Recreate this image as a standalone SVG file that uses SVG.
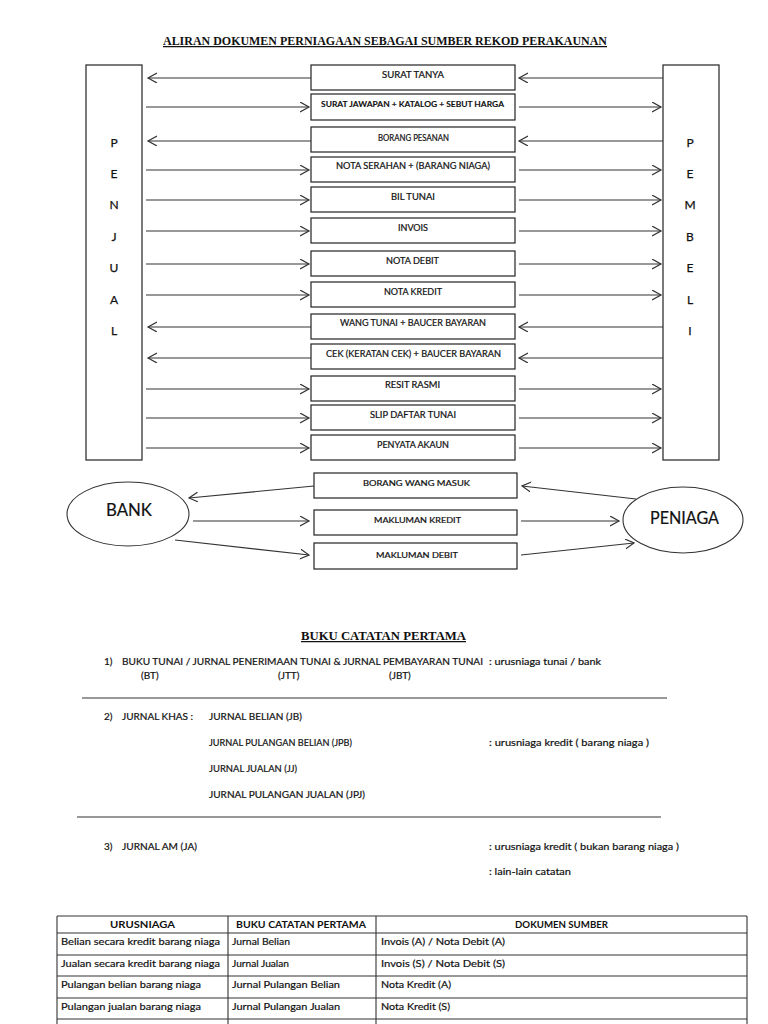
<svg xmlns="http://www.w3.org/2000/svg" width="768" height="1024" viewBox="0 0 768 1024">
<style>
.bg{fill:#fff}
.box{fill:#fff;stroke:#222;stroke-width:1.2}
.ell{fill:#fff;stroke:#333;stroke-width:1.1}
.bt{font-family:Lato,"Liberation Sans",sans-serif;font-size:8.5px;fill:#111;stroke:#111;stroke-width:0.2;text-anchor:start}
.bb{font-weight:bold;font-size:7.8px;stroke-width:0.1}
.title{font-family:"Liberation Serif",serif;font-weight:bold;font-size:12.5px;fill:#111;text-decoration:underline}
.let{font-family:Lato,"Liberation Sans",sans-serif;font-size:12px;fill:#111;stroke:#111;stroke-width:0.25;text-anchor:middle}
.big{font-family:Lato,"Liberation Sans",sans-serif;font-size:17px;fill:#111;stroke:#111;stroke-width:0.2}
.t{font-family:Lato,"Liberation Sans",sans-serif;font-size:10px;fill:#111;stroke:#111;stroke-width:0.2}
.th{font-family:Lato,"Liberation Sans",sans-serif;font-size:10px;fill:#111;font-weight:bold}
.con line{stroke:#333;stroke-width:1.2;marker-end:url(#arr)}
.rule{stroke:#333;stroke-width:1.2}
.tbl{stroke:#333;stroke-width:1.1;fill:none}
</style>
<defs>
<marker id="arr" markerUnits="userSpaceOnUse" markerWidth="12" markerHeight="12" refX="9" refY="5" orient="auto">
<path d="M0,0 L9,5 L0,10" fill="none" stroke="#333" stroke-width="1.2"/>
</marker>
</defs>
<rect class="bg" x="0" y="0" width="768" height="1024"/>

<text class="title" x="163" y="45" textLength="444" lengthAdjust="spacingAndGlyphs">ALIRAN DOKUMEN PERNIAGAAN SEBAGAI SUMBER REKOD PERAKAUNAN</text>

<g id="penjual">
<rect class="box" x="86" y="65" width="56" height="395"/>
<text class="let" x="114" y="147">P</text>
<text class="let" x="114" y="178">E</text>
<text class="let" x="114" y="209">N</text>
<text class="let" x="114" y="241">J</text>
<text class="let" x="114" y="272">U</text>
<text class="let" x="114" y="304">A</text>
<text class="let" x="114" y="335">L</text>
</g>
<g id="pembeli">
<rect class="box" x="663" y="65" width="56" height="395"/>
<text class="let" x="690" y="147">P</text>
<text class="let" x="690" y="178">E</text>
<text class="let" x="690" y="209">M</text>
<text class="let" x="690" y="241">B</text>
<text class="let" x="690" y="272">E</text>
<text class="let" x="690" y="304">L</text>
<text class="let" x="690" y="335">I</text>
</g>

<g id="surat-tanya"><rect class="box" x="311" y="65" width="204" height="25"/><text class="bt" x="382" y="78" textLength="62" lengthAdjust="spacingAndGlyphs">SURAT TANYA</text></g>
<g id="surat-jawapan"><rect class="box" x="311" y="94" width="204" height="26"/><text class="bt bb" x="321" y="107" textLength="183" lengthAdjust="spacingAndGlyphs">SURAT JAWAPAN + KATALOG + SEBUT HARGA</text></g>
<g id="borang-pesanan"><rect class="box" x="311" y="127" width="204" height="25"/><text class="bt" x="378" y="141" textLength="71" lengthAdjust="spacingAndGlyphs">BORANG PESANAN</text></g>
<g id="nota-serahan"><rect class="box" x="311" y="157" width="204" height="25"/><text class="bt" x="336" y="169" textLength="154" lengthAdjust="spacingAndGlyphs">NOTA SERAHAN + (BARANG NIAGA)</text></g>
<g id="bil-tunai"><rect class="box" x="311" y="187" width="204" height="25"/><text class="bt" x="391" y="200" textLength="44" lengthAdjust="spacingAndGlyphs">BIL TUNAI</text></g>
<g id="invois"><rect class="box" x="311" y="218" width="204" height="25"/><text class="bt" x="398" y="231" textLength="30" lengthAdjust="spacingAndGlyphs">INVOIS</text></g>
<g id="nota-debit"><rect class="box" x="311" y="251" width="204" height="25"/><text class="bt" x="386" y="264" textLength="53" lengthAdjust="spacingAndGlyphs">NOTA DEBIT</text></g>
<g id="nota-kredit"><rect class="box" x="311" y="282" width="204" height="25"/><text class="bt" x="384" y="295" textLength="58" lengthAdjust="spacingAndGlyphs">NOTA KREDIT</text></g>
<g id="wang-tunai"><rect class="box" x="311" y="314" width="204" height="25"/><text class="bt" x="340" y="326" textLength="146" lengthAdjust="spacingAndGlyphs">WANG TUNAI + BAUCER BAYARAN</text></g>
<g id="cek"><rect class="box" x="311" y="344" width="204" height="25"/><text class="bt" x="326" y="357" textLength="175" lengthAdjust="spacingAndGlyphs">CEK (KERATAN CEK) + BAUCER BAYARAN</text></g>
<g id="resit-rasmi"><rect class="box" x="311" y="376" width="204" height="25"/><text class="bt" x="385" y="388" textLength="55" lengthAdjust="spacingAndGlyphs">RESIT RASMI</text></g>
<g id="slip-daftar"><rect class="box" x="311" y="405" width="204" height="25"/><text class="bt" x="370" y="418" textLength="86" lengthAdjust="spacingAndGlyphs">SLIP DAFTAR TUNAI</text></g>
<g id="penyata-akaun"><rect class="box" x="311" y="435" width="204" height="25"/><text class="bt" x="377" y="448" textLength="72" lengthAdjust="spacingAndGlyphs">PENYATA AKAUN</text></g>

<g id="borang-wang-masuk"><rect class="box" x="314" y="473" width="203" height="25"/><text class="bt" x="363" y="486" textLength="107" lengthAdjust="spacingAndGlyphs" style="font-size:7.5px">BORANG WANG MASUK</text></g>
<g id="makluman-kredit"><rect class="box" x="314" y="510" width="203" height="25"/><text class="bt" x="374" y="523" textLength="87" lengthAdjust="spacingAndGlyphs" style="font-size:7.5px">MAKLUMAN KREDIT</text></g>
<g id="makluman-debit"><rect class="box" x="314" y="543" width="203" height="26"/><text class="bt" x="376" y="558" textLength="82" lengthAdjust="spacingAndGlyphs" style="font-size:7.5px">MAKLUMAN DEBIT</text></g>

<g id="bank"><ellipse class="ell" cx="128" cy="514" rx="61" ry="32"/><text class="big" x="106" y="516" textLength="46" lengthAdjust="spacingAndGlyphs">BANK</text></g>
<g id="peniaga"><ellipse class="ell" cx="683" cy="520" rx="60" ry="33"/><text class="big" x="650" y="524" textLength="69" lengthAdjust="spacingAndGlyphs">PENIAGA</text></g>

<g id="connectors" class="con">
<line x1="311" y1="78" x2="148" y2="78"/><line x1="663" y1="78" x2="519" y2="78"/>
<line x1="146" y1="107" x2="309" y2="107"/><line x1="519" y1="107" x2="661" y2="107"/>
<line x1="311" y1="141" x2="148" y2="141"/><line x1="663" y1="141" x2="519" y2="141"/>
<line x1="146" y1="170" x2="309" y2="170"/><line x1="519" y1="170" x2="661" y2="170"/>
<line x1="146" y1="200" x2="309" y2="200"/><line x1="519" y1="200" x2="661" y2="200"/>
<line x1="146" y1="231" x2="309" y2="231"/><line x1="519" y1="231" x2="661" y2="231"/>
<line x1="146" y1="264" x2="309" y2="264"/><line x1="519" y1="264" x2="661" y2="264"/>
<line x1="146" y1="295" x2="309" y2="295"/><line x1="519" y1="295" x2="661" y2="295"/>
<line x1="311" y1="327" x2="148" y2="327"/><line x1="663" y1="327" x2="519" y2="327"/>
<line x1="311" y1="358" x2="148" y2="358"/><line x1="663" y1="358" x2="519" y2="358"/>
<line x1="146" y1="389" x2="309" y2="389"/><line x1="519" y1="389" x2="661" y2="389"/>
<line x1="146" y1="418" x2="309" y2="418"/><line x1="519" y1="418" x2="661" y2="418"/>
<line x1="146" y1="448" x2="309" y2="448"/><line x1="519" y1="448" x2="661" y2="448"/>
<line x1="314" y1="486" x2="189" y2="498"/>
<line x1="636" y1="499" x2="522" y2="486"/>
<line x1="193" y1="521" x2="309" y2="521"/>
<line x1="521" y1="521" x2="619" y2="521"/>
<line x1="175" y1="540" x2="309" y2="555"/>
<line x1="521" y1="555" x2="634" y2="543"/>
</g>

<text class="title" x="301" y="640" textLength="165" lengthAdjust="spacingAndGlyphs">BUKU CATATAN PERTAMA</text>

<text class="t" x="104" y="664.5">1)</text>
<text class="t" x="122" y="664.5" textLength="361" lengthAdjust="spacingAndGlyphs">BUKU TUNAI / JURNAL PENERIMAAN TUNAI &amp; JURNAL PEMBAYARAN TUNAI</text>
<text class="t" x="489" y="664.5" textLength="112" lengthAdjust="spacingAndGlyphs">: urusniaga tunai / bank</text>
<text class="t" x="141" y="678.5">(BT)</text>
<text class="t" x="278" y="678.5">(JTT)</text>
<text class="t" x="389" y="678.5">(JBT)</text>
<line class="rule" x1="82" y1="698" x2="667" y2="698"/>

<text class="t" x="104" y="719.5">2)</text>
<text class="t" x="122" y="719.5" textLength="71" lengthAdjust="spacingAndGlyphs">JURNAL KHAS :</text>
<text class="t" x="209" y="719.5" textLength="93" lengthAdjust="spacingAndGlyphs">JURNAL BELIAN (JB)</text>
<text class="t" x="209" y="745.5" textLength="143" lengthAdjust="spacingAndGlyphs">JURNAL PULANGAN BELIAN (JPB)</text>
<text class="t" x="489" y="745.5" textLength="160" lengthAdjust="spacingAndGlyphs">: urusniaga kredit  ( barang niaga )</text>
<text class="t" x="209" y="771.5" textLength="88" lengthAdjust="spacingAndGlyphs">JURNAL JUALAN (JJ)</text>
<text class="t" x="209" y="797.5" textLength="156" lengthAdjust="spacingAndGlyphs">JURNAL PULANGAN JUALAN (JPJ)</text>
<line class="rule" x1="77" y1="817" x2="661" y2="817"/>

<text class="t" x="104" y="849.5">3)</text>
<text class="t" x="122" y="849.5" textLength="75" lengthAdjust="spacingAndGlyphs">JURNAL AM (JA)</text>
<text class="t" x="489" y="849.5" textLength="190" lengthAdjust="spacingAndGlyphs">: urusniaga kredit ( bukan barang niaga )</text>
<text class="t" x="489" y="874.5" textLength="82" lengthAdjust="spacingAndGlyphs">: lain-lain catatan</text>

<g id="table">
<path class="tbl" d="M57,916 H747 M57,933 H747 M57,955 H747 M57,976 H747 M57,998 H747 M57,1019 H747 M57,916 V1024 M228,916 V1024 M376,916 V1024 M747,916 V1024"/>
<text class="th" x="110" y="927.5" textLength="65" lengthAdjust="spacingAndGlyphs">URUSNIAGA</text>
<text class="th" x="236" y="927.5" textLength="130" lengthAdjust="spacingAndGlyphs">BUKU CATATAN PERTAMA</text>
<text class="th" x="515" y="927.5" textLength="93" lengthAdjust="spacingAndGlyphs">DOKUMEN SUMBER</text>
<text class="t" x="61" y="945" textLength="159" lengthAdjust="spacingAndGlyphs">Belian secara kredit barang niaga</text>
<text class="t" x="232" y="945" textLength="58" lengthAdjust="spacingAndGlyphs">Jurnal Belian</text>
<text class="t" x="381" y="945" textLength="124" lengthAdjust="spacingAndGlyphs">Invois (A)  / Nota Debit (A)</text>
<text class="t" x="61" y="966.5" textLength="159" lengthAdjust="spacingAndGlyphs">Jualan secara kredit barang niaga</text>
<text class="t" x="232" y="966.5" textLength="57" lengthAdjust="spacingAndGlyphs">Jurnal Jualan</text>
<text class="t" x="381" y="966.5" textLength="124" lengthAdjust="spacingAndGlyphs">Invois (S)  /  Nota Debit (S)</text>
<text class="t" x="61" y="988" textLength="140" lengthAdjust="spacingAndGlyphs">Pulangan belian barang niaga</text>
<text class="t" x="232" y="988" textLength="108" lengthAdjust="spacingAndGlyphs">Jurnal Pulangan Belian</text>
<text class="t" x="381" y="988" textLength="70" lengthAdjust="spacingAndGlyphs">Nota Kredit (A)</text>
<text class="t" x="61" y="1009.5" textLength="140" lengthAdjust="spacingAndGlyphs">Pulangan jualan barang niaga</text>
<text class="t" x="232" y="1009.5" textLength="108" lengthAdjust="spacingAndGlyphs">Jurnal Pulangan Jualan</text>
<text class="t" x="381" y="1009.5" textLength="69" lengthAdjust="spacingAndGlyphs">Nota Kredit (S)</text>
</g>
</svg>
